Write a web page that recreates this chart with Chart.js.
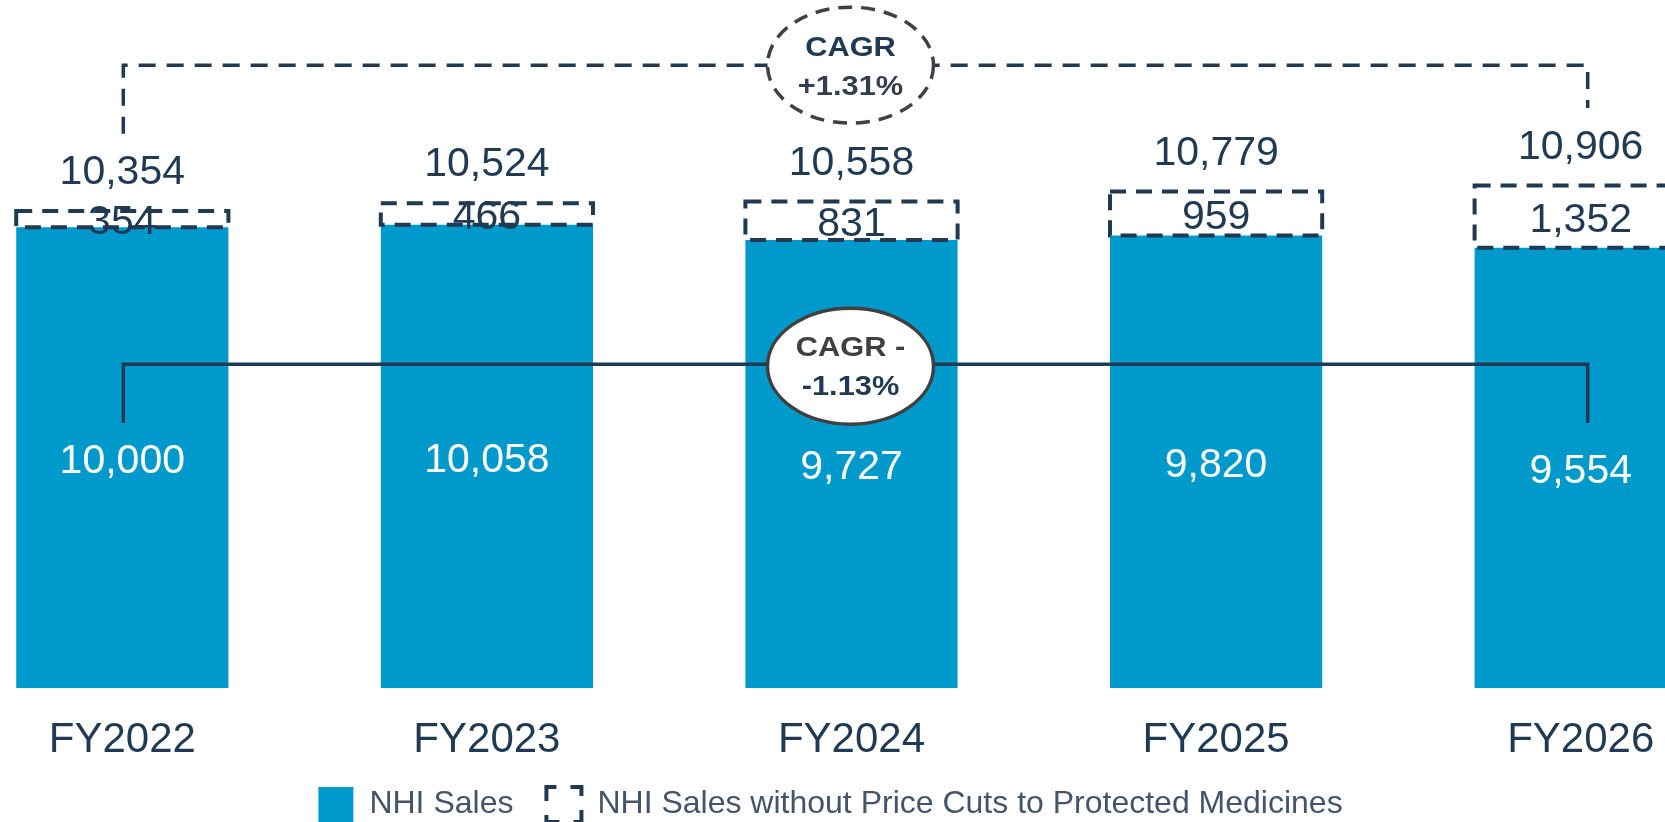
<!DOCTYPE html>
<html>
<head>
<meta charset="utf-8">
<script src="https://cdn.jsdelivr.net/npm/chart.js@4/dist/chart.umd.min.js"></script>
<style>
  html, body { margin: 0; padding: 0; background: #ffffff; overflow: hidden; width: 1665px; height: 822px; }
  #c { position: absolute; left: -102px; top: 0; }
</style>
</head>
<body>
<canvas id="c" width="1865" height="832"></canvas>
<script>
// ---- data ----
const categories = ['FY2022', 'FY2023', 'FY2024', 'FY2025', 'FY2026'];
const nhiSales = [10000, 10058, 9727, 9820, 9554];
const priceCutImpact = [354, 466, 831, 959, 1352];
const seriesNames = ['NHI Sales', 'NHI Sales without Price Cuts to Protected Medicines'];
const cagrTop = ['CAGR', '+1.31%'];
const cagrBottom = ['CAGR -', '-1.13%'];

// ---- styles ----
const BLUE = '#0099CC';
const NAVY = '#1F3A52';
const GREY = '#404040';
const LEGEND_GREY = '#44546A';
const FONT = '"Liberation Sans", Arial, Helvetica, sans-serif';

const fmt = v => v.toLocaleString('en-US');

const annot = {
  id: 'annot',
  afterDatasetsDraw(chart) {
    const { ctx, scales: { x, y } } = chart;
    const m0 = chart.getDatasetMeta(0);
    const m1 = chart.getDatasetMeta(1);
    ctx.save();

    // dashed boxes for the price-cut segment
    ctx.strokeStyle = NAVY;
    ctx.lineWidth = 4;
    ctx.setLineDash([16, 10]);
    m1.data.forEach(b => {
      const p = b.getProps(['x', 'y', 'base', 'width'], true);
      ctx.strokeRect(p.x - p.width / 2, p.y, p.width, p.base - p.y);
    });

    const xL = x.getPixelForValue(0) + 1;
    const xR = x.getPixelForValue(4) + 7;
    const xM = x.getPixelForValue(2) - 1;

    // top dashed bracket
    const tY = y.getPixelForValue(13520);
    ctx.lineWidth = 3.5;
    ctx.setLineDash([17, 11]);
    ctx.beginPath();
    ctx.moveTo(xL, y.getPixelForValue(12030));
    ctx.lineTo(xL, tY);
    ctx.lineTo(xR, tY);
    ctx.lineTo(xR, y.getPixelForValue(12590));
    ctx.stroke();

    // bottom solid bracket
    const bY = y.getPixelForValue(7030);
    ctx.setLineDash([]);
    ctx.lineWidth = 3.5;
    ctx.beginPath();
    ctx.moveTo(xL, y.getPixelForValue(5750));
    ctx.lineTo(xL, bY);
    ctx.lineTo(xR, bY);
    ctx.lineTo(xR, y.getPixelForValue(5750));
    ctx.stroke();

    // ellipses
    const stretchText = (txt, cx, cy) => {
      ctx.save();
      ctx.translate(cx, cy);
      ctx.scale(1.12, 1);
      ctx.fillText(txt, 0, 0);
      ctx.restore();
    };
    const drawEllipse = (cy, dashed, lines, colors, dy) => {
      ctx.beginPath();
      ctx.ellipse(xM, cy, 83, 58, 0, 0, Math.PI * 2);
      ctx.fillStyle = '#ffffff';
      ctx.fill();
      ctx.strokeStyle = GREY;
      ctx.lineWidth = 3.5;
      ctx.setLineDash(dashed ? [14, 9] : []);
      ctx.stroke();
      ctx.setLineDash([]);
      ctx.font = 'bold 27.5px ' + FONT;
      ctx.textAlign = 'center';
      ctx.textBaseline = 'middle';
      ctx.fillStyle = colors[0];
      stretchText(lines[0], xM, cy - dy[0]);
      ctx.fillStyle = colors[1];
      stretchText(lines[1], xM, cy + dy[1]);
    };
    drawEllipse(tY, true, cagrTop, [NAVY, '#333F4F'], [17, 22]);
    drawEllipse(bY + 2, false, cagrBottom, [GREY, NAVY], [18, 21]);

    // value labels
    ctx.font = '41px ' + FONT;
    ctx.textAlign = 'center';
    ctx.textBaseline = 'middle';
    m0.data.forEach((b, i) => {
      const p = b.getProps(['x', 'y', 'base'], true);
      ctx.fillStyle = '#ffffff';
      ctx.fillText(fmt(nhiSales[i]), p.x, (p.y + p.base) / 2 + 4);
    });
    m1.data.forEach((b, i) => {
      const p = b.getProps(['x', 'y', 'base'], true);
      ctx.fillStyle = NAVY;
      ctx.fillText(fmt(priceCutImpact[i]), p.x, (p.y + p.base) / 2 + 4);
      ctx.fillText(fmt(nhiSales[i] + priceCutImpact[i]), p.x, p.y - 38);
    });
    ctx.restore();
  }
};

new Chart(document.getElementById('c'), {
  type: 'bar',
  data: {
    labels: categories,
    datasets: [
      { label: seriesNames[0], data: nhiSales, backgroundColor: BLUE, borderWidth: 0,
        barPercentage: 1, categoryPercentage: 0.582 },
      { label: seriesNames[1], data: priceCutImpact, backgroundColor: 'rgba(0,0,0,0)', borderWidth: 0,
        barPercentage: 1, categoryPercentage: 0.582 }
    ]
  },
  options: {
    responsive: false,
    animation: false,
    devicePixelRatio: 1,
    layout: { padding: { top: 20, bottom: 0, left: 0, right: 0 } },
    plugins: {
      tooltip: { enabled: false },
      legend: {
        position: 'bottom',
        labels: {
          padding: 33,
          boxWidth: 35,
          boxHeight: 35,
          color: LEGEND_GREY,
          font: { family: FONT, size: 32 },
          generateLabels: () => [
            { text: seriesNames[0], fillStyle: BLUE, strokeStyle: BLUE, lineWidth: 0, fontColor: LEGEND_GREY, datasetIndex: 0 },
            { text: seriesNames[1], fillStyle: '#ffffff', strokeStyle: NAVY, lineWidth: 4,
              lineDash: [20, 14], lineDashOffset: 10, fontColor: LEGEND_GREY, datasetIndex: 1 }
          ]
        }
      }
    },
    scales: {
      x: {
        stacked: true,
        grid: { display: false, drawTicks: false },
        border: { display: false },
        ticks: { padding: 27, color: NAVY, font: { family: FONT, size: 42 } },
        afterFit: s => { s.height = 66; }
      },
      y: {
        stacked: true,
        min: 0,
        max: 14500,
        ticks: { display: false },
        grid: { display: false },
        border: { display: false },
        afterFit: s => { s.width = 42; }
      }
    }
  },
  plugins: [annot]
});
</script>
</body>
</html>
